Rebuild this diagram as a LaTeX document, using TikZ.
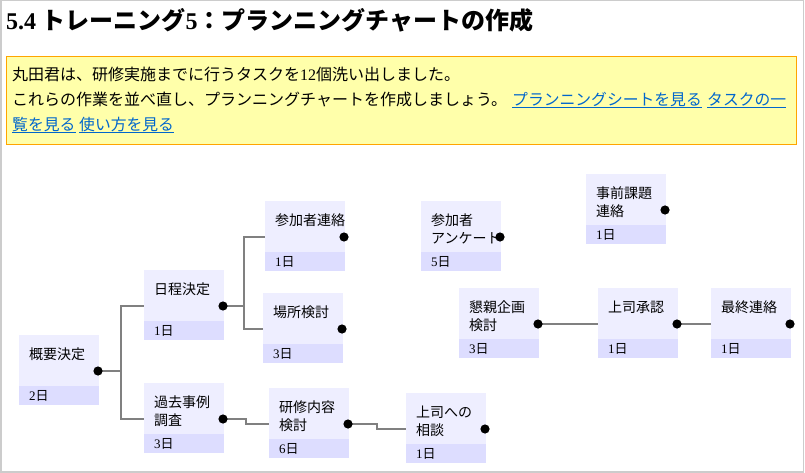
\documentclass[tikz,border=0pt]{standalone}
\usepackage{fontspec}
\setmainfont{Noto Sans CJK JP}
\newfontfamily\lat{Liberation Serif}
\usetikzlibrary{calc}
\definecolor{boxc}{HTML}{EEEEFF}
\definecolor{bandc}{HTML}{DDDDFF}
\definecolor{connc}{HTML}{808080}
\definecolor{notefill}{HTML}{FFFFAA}
\definecolor{noteedge}{HTML}{FFA500}
\definecolor{linkc}{HTML}{0066CC}
\definecolor{framec}{HTML}{CCCCCC}
\tikzset{
  taskbox/.style={fill=boxc, draw=none, minimum width=80pt, minimum height=70pt, inner sep=0pt, outer sep=0pt},
  titletext/.style={inner sep=0pt, font=\fontsize{14}{18}\selectfont},
  daytext/.style={inner sep=0pt, font=\fontsize{13}{16}\selectfont},
  conn/.style={draw=connc, line width=2pt},
  dotc/.style={fill=black},
  notebox/.style={fill=notefill, draw=noteedge, line width=1pt, minimum width=790pt, minimum height=88pt, inner sep=0pt},
  paratext/.style={inner sep=0pt, font=\fontsize{16}{18}\selectfont},
  linktext/.style={inner sep=0pt, text=linkc, font=\fontsize{15.8}{18}\selectfont},
}
\newcommand\twol[2]{\vtop{\hbox{#1}\hbox{#2}}}
\newcommand\task[5]{%
  \node[taskbox, anchor=north west] (#1) at (#2,#3) {};
  \fill[bandc] (#1.south west) rectangle ($(#1.south east)+(0,-19)$);
  \node[titletext, anchor=base west] (#1-t) at ($(#1.north west)+(10,24.5)$) {#4};
  \node[daytext, anchor=base west] (#1-d) at ($(#1.south west)+(10,-4.5)$) {{\lat #5}日};
  \coordinate (#1-out) at ($(#1.north east)+(-1,36)$);
  \coordinate (#1-in) at ($(#1.north west)+(0,36)$);
}
\begin{document}
\begin{tikzpicture}[x=1pt,y=-1pt]
\useasboundingbox (0,0) rectangle (805,473);
\fill[white] (0,0) rectangle (805,473);
\draw[framec, line width=1.5pt] (0.75,0.75) rectangle (803.5,472);
% heading
\node[inner sep=0pt, anchor=base west, font=\fontsize{24}{26}\selectfont\bfseries] (head) at (6,29.5)
  {{\lat\bfseries 5.4} トレーニング{\lat\bfseries 5}：プランニングチャートの作成};
% note box
\node[notebox, anchor=north west] (note) at (5.5,56.5) {};
\node[paratext, anchor=base west] (p1) at (12,80.5) {丸田君は、研修実施までに行うタスクを{\lat 12}個洗い出しました。};
\node[paratext, anchor=base west] (p2) at (12,105.5) {これらの作業を並べ直し、プランニングチャートを作成しましょう。};
\node[linktext, anchor=base west] (k1) at (512,105.5) {プランニングシートを見る};
\node[linktext, anchor=base west] (k2) at (707,105.5) {タスクの一};
\node[linktext, anchor=base west] (k3) at (12,130.5) {覧を見る};
\node[linktext, anchor=base west] (k4) at (79,130.5) {使い方を見る};
\foreach \k in {k1,k2,k3,k4}{
  \draw[linkc, line width=1pt] ($(\k.base west)+(0,2)$) -- ($(\k.base east)+(0,2)$);
}
% tasks
\task{A}{19}{335}{概要決定}{2}
\task{B}{144}{270}{日程決定}{1}
\task{C}{265}{201}{参加者連絡}{1}
\task{D}{263}{293}{場所検討}{3}
\task{E}{144}{383}{\twol{過去事例}{調査}}{3}
\task{F}{269}{388}{\twol{研修内容}{検討}}{6}
\task{G}{406}{393}{\twol{上司への}{相談}}{1}
\task{H}{421}{201}{\twol{参加者}{アンケート}}{5}
\task{I}{586}{174}{\twol{事前課題}{連絡}}{1}
\task{J}{459}{288}{\twol{懇親企画}{検討}}{3}
\task{K}{598}{288}{上司承認}{1}
\task{L}{711}{288}{最終連絡}{1}
% connectors
\draw[conn] (A-out) -| ($(A-out)!0.5!(B-in)$) |- (B-in);
\draw[conn] (A-out) -| ($(A-out)!0.5!(E-in)$) |- (E-in);
\draw[conn] (B-out) -| ($(B-out)!0.5!(C-in)$) |- (C-in);
\draw[conn] (B-out) -| ($(B-out)!0.5!(C-in)$) |- (D-in);
\draw[conn] (E-out) -| ($(E-out)!0.5!(F-in)$) |- (F-in);
\draw[conn] (F-out) -| ($(F-out)!0.5!(G-in)$) |- (G-in);
\draw[conn] (J-out) -- (K-in);
\draw[conn] (K-out) -- (L-in);
% dots
\foreach \n in {A,B,C,D,E,F,G,H,I,J,K,L}{
  \fill[dotc] (\n-out) circle (4.6);
}
\end{tikzpicture}
\end{document}
